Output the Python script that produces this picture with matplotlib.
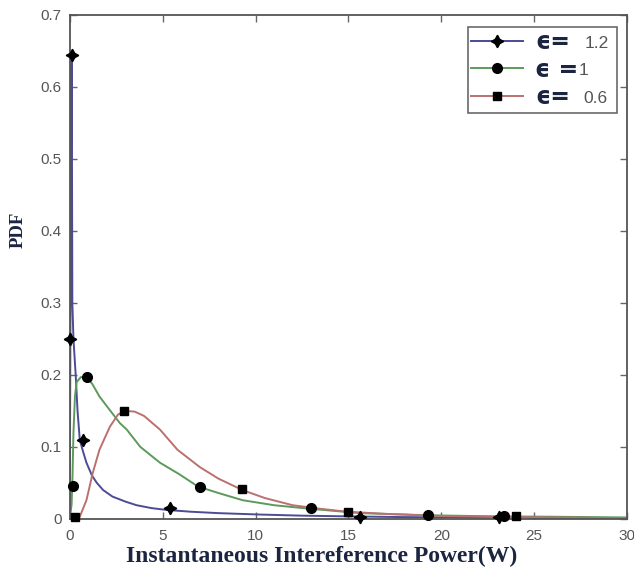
import matplotlib
matplotlib.use('Agg')
import matplotlib.pyplot as plt
from matplotlib.lines import Line2D
from matplotlib.transforms import offset_copy

# curve data
x_12 = [0.0, 0.06, 0.1, 0.12, 0.14, 0.2, 0.32, 0.42, 0.54, 0.7, 0.9, 1.2, 1.46, 1.8, 2.3, 3.0,
        3.6, 4.4, 5.2, 6.5, 8.0, 10.3, 12.5, 15.0, 18.0, 22.0, 26.0, 30.0]
y_12 = [0.0, 0.45, 0.645, 0.5, 0.3, 0.25, 0.2, 0.15, 0.11, 0.095, 0.078, 0.06, 0.05, 0.04, 0.031, 0.024,
        0.019, 0.015, 0.0125, 0.01, 0.008, 0.006, 0.0045, 0.0035, 0.0025, 0.002, 0.0015, 0.001]

x_1 = [0.0, 0.1, 0.15, 0.2, 0.28, 0.37, 0.6, 0.9, 1.2, 1.6, 2.16, 2.7, 3.07, 3.8, 4.86, 5.9,
       6.9, 8.0, 9.3, 11.0, 12.95, 15.65, 19.3, 23.0, 26.0, 30.0]
y_1 = [0.0, 0.02, 0.06, 0.12, 0.17, 0.19, 0.197, 0.196, 0.188, 0.17, 0.151, 0.133, 0.124, 0.1, 0.078, 0.062,
       0.045, 0.036, 0.026, 0.019, 0.014, 0.008, 0.005, 0.0035, 0.003, 0.002]

x_06 = [0.0, 0.3, 0.54, 0.9, 1.24, 1.6, 2.16, 2.6, 3.0, 3.5, 4.0, 4.86, 5.8, 7.0, 8.0, 9.3,
        10.5, 12.0, 13.5, 14.9, 17.0, 20.0, 24.0, 30.0]
y_06 = [0.0, 0.0, 0.003, 0.026, 0.064, 0.096, 0.128, 0.145, 0.15, 0.149, 0.143, 0.124, 0.096, 0.072, 0.056, 0.04,
        0.029, 0.019, 0.014, 0.01, 0.007, 0.004, 0.0025, 0.001]

# marker positions
mx_12 = [0.1, 0.0, 0.7, 5.4, 15.6, 23.1]
my_12 = [0.645, 0.25, 0.11, 0.015, 0.003, 0.002]
mx_1 = [0.15, 0.95, 7.0, 13.0, 19.3, 23.4]
my_1 = [0.045, 0.197, 0.044, 0.015, 0.006, 0.004]
mx_06 = [0.27, 2.9, 9.3, 15.0, 24.0]
my_06 = [0.003, 0.15, 0.041, 0.01, 0.004]

eps_labels = ['\u03f5=', '\u03f5 =', '\u03f5=']
eps_values = ['1.2', '1', '0.6']
value_shift = [35.5, 31.5, 34.5]   # points from start of legend text
colors = ['#4b4b96', '#5c9a5c', '#bb7070']
markers = [(4, 1, 0), 'o', 's']
msizes = [9, 7, 6]

fig = plt.figure(figsize=(6.34, 5.74), dpi=100)
ax = fig.add_axes([0.110, 0.096, 0.879, 0.878])

series = [(x_12, y_12, mx_12, my_12), (x_1, y_1, mx_1, my_1), (x_06, y_06, mx_06, my_06)]
handles = []
for (xs, ys, mx, my), c, m, ms, lab in zip(series, colors, markers, msizes, eps_labels):
    ax.plot(xs, ys, color=c, lw=1.4, zorder=2)
    ax.plot(mx, my, ls='none', marker=m, ms=ms, color='black', zorder=3, clip_on=False)
    handles.append(Line2D([], [], color=c, lw=1.4, marker=m, ms=ms,
                          markerfacecolor='black', markeredgecolor='black', label=lab))

ax.set_xlim(0, 30)
ax.set_ylim(0, 0.7)
ax.set_xticks([0, 5, 10, 15, 20, 25, 30])
ax.set_yticks([0, 0.1, 0.2, 0.3, 0.4, 0.5, 0.6, 0.7])
ax.set_yticklabels(['0', '0.1', '0.2', '0.3', '0.4', '0.5', '0.6', '0.7'])
ax.tick_params(direction='in', top=True, right=True, length=5, width=1,
               labelsize=11, labelcolor='#555555', color='#666666')
ax.tick_params(axis='x', pad=7)
ax.tick_params(axis='y', pad=6)
for t in ax.get_xticklabels() + ax.get_yticklabels():
    t.set_family('Liberation Sans')
for sp in ax.spines.values():
    sp.set_color('#555555')
    sp.set_linewidth(1.3)

ax.set_xlabel('Instantaneous Intereference Power(W)',
              family='Liberation Serif', weight='bold', size=17, color='#1c2540')
ax.xaxis.set_label_coords(0.452, -0.0535)
ax.set_ylabel('PDF', family='Liberation Serif', weight='bold', size=13.5, color='#1c2540')
ax.yaxis.set_label_coords(-0.077, 0.573)

leg = ax.legend(handles=handles, loc='upper right', bbox_to_anchor=(0.7145, 0.5, 0.2675, 0.477),
                mode='expand', fancybox=False, edgecolor='#444444', handlelength=2.2, handletextpad=0.5,
                labelspacing=0.15, borderpad=0.15, borderaxespad=0.0,
                prop={'family': 'DejaVu Sans', 'weight': 'bold', 'size': 17})
leg.get_frame().set_linewidth(1.2)
for t in leg.get_texts():
    t.set_color('#1c2540')

# numbers after the epsilon sign, smaller and grey like the original legend
fig.canvas.draw()
for t, val, dx in zip(leg.get_texts(), eps_values, value_shift):
    bb = t.get_window_extent()
    fig.text(bb.x0 / fig.dpi, (bb.y0 + bb.y1) / 2 / fig.dpi, val,
             transform=offset_copy(fig.dpi_scale_trans, fig=fig, x=dx, y=-1, units='points'),
             family='Liberation Sans', size=12.5, color='#555555', ha='left', va='center', zorder=10)

fig.savefig('out.png', dpi=100)
